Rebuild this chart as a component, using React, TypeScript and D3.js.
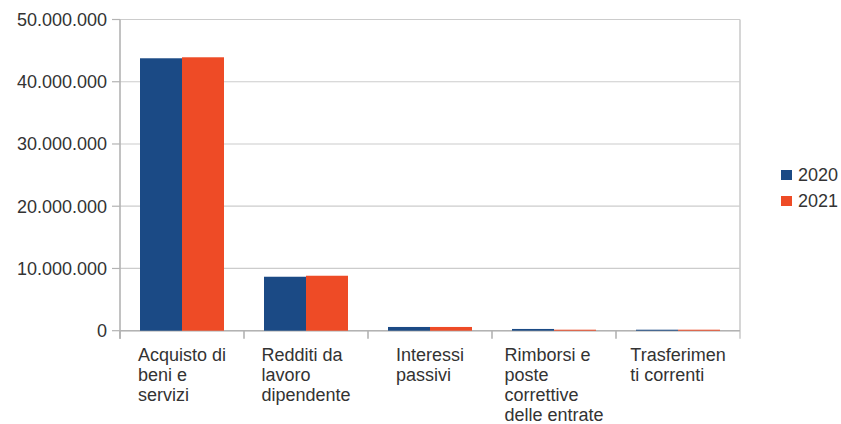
import React from "react";
import * as d3 from "d3";

const categories = [
  "Acquisto di beni e servizi",
  "Redditi da lavoro dipendente",
  "Interessi passivi",
  "Rimborsi e poste correttive delle entrate",
  "Trasferimenti correnti",
];
const categoryLabelLines = [
  ["Acquisto di", "beni e", "servizi"],
  ["Redditi da", "lavoro", "dipendente"],
  ["Interessi", "passivi"],
  ["Rimborsi e", "poste", "correttive", "delle entrate"],
  ["Trasferimen", "ti correnti"],
];
const seriesNames = ["2020", "2021"];
const values2020 = [43770000, 8670000, 600000, 280000, 160000];
const values2021 = [43930000, 8830000, 600000, 160000, 160000];
const yTicks = [0, 10000000, 20000000, 30000000, 40000000, 50000000];
const colors = ["#1b4a85", "#ee4b26"];

const W = 841;
const H = 424;
const left = 120;
const right = 740;
const top = 19.5;
const bottom = 330.7;
const fontFamily = "'Liberation Sans', Arial, sans-serif";
const textColor = "#333333";

export default function App() {
  const x = d3.scaleBand<string>().domain(categories).range([left, right]).paddingInner(0).paddingOuter(0);
  const y = d3.scaleLinear().domain([0, 50000000]).range([bottom, top]);
  const fmt = (v: number) => d3.format(",")(v).replace(/,/g, ".");
  const series = [values2020, values2021];

  const barW = 42;
  const barOffset = (x.bandwidth() - 2 * barW) / 2;

  return (
    <svg width={W} height={H} style={{ position: "absolute", left: 0, top: 0, fontFamily }}>
      <rect x={0} y={0} width={W} height={H} fill="#ffffff" />
      {yTicks.map((t) => (
        <g key={t}>
          <line x1={left} x2={right} y1={y(t)} y2={y(t)} stroke="#cccccc" strokeWidth={1.2} />
          <line x1={left - 8} x2={left} y1={y(t)} y2={y(t)} stroke="#b3b3b3" strokeWidth={1.2} />
          <text x={107} y={y(t)} dy="0.36em" textAnchor="end" fontSize={18} fill={textColor}>
            {fmt(t)}
          </text>
        </g>
      ))}
      <line x1={right} x2={right} y1={top} y2={bottom + 8} stroke="#cccccc" strokeWidth={1.6} />
      <line x1={left} x2={right} y1={bottom} y2={bottom} stroke="#b3b3b3" strokeWidth={1.6} />
      <line x1={left} x2={left} y1={top} y2={bottom + 8} stroke="#b3b3b3" strokeWidth={1.6} />
      {categories.map((c, i) => (
        <line
          key={"t" + i}
          x1={x(c) as number}
          x2={x(c) as number}
          y1={bottom}
          y2={bottom + 8}
          stroke="#b3b3b3"
          strokeWidth={1.6}
        />
      ))}
      {categories.map((c, i) => (
        <g key={c}>
          {series.map((vals, s) => (
            <rect
              key={s}
              x={(x(c) as number) + barOffset + s * barW}
              y={y(vals[i])}
              width={barW}
              height={bottom - y(vals[i])}
              fill={colors[s]}
            />
          ))}
        </g>
      ))}
      {categories.map((c, i) => (
        <CatLabel key={"l" + i} lines={categoryLabelLines[i]} cx={(x(c) as number) + x.bandwidth() / 2} />
      ))}
      {seriesNames.map((s, i) => (
        <g key={s}>
          <rect x={781} y={170 + i * 26} width={11} height={10} fill={colors[i]} />
          <text x={798} y={175 + i * 26} dy="0.36em" fontSize={18} fill={textColor}>
            {s}
          </text>
        </g>
      ))}
    </svg>
  );
}

function CatLabel({ lines, cx }: { lines: string[]; cx: number }) {
  const ref = React.useRef<SVGTextElement>(null);
  const [dx, setDx] = React.useState(0);
  React.useLayoutEffect(() => {
    if (ref.current) {
      const bb = ref.current.getBBox();
      setDx(cx - bb.width / 2);
    }
  }, [cx, lines]);
  return (
    <text ref={ref} x={dx} y={361} fontSize={18} fill={textColor} fontFamily={fontFamily}>
      {lines.map((l, j) => (
        <tspan key={j} x={dx} y={361 + j * 20}>
          {l}
        </tspan>
      ))}
    </text>
  );
}
